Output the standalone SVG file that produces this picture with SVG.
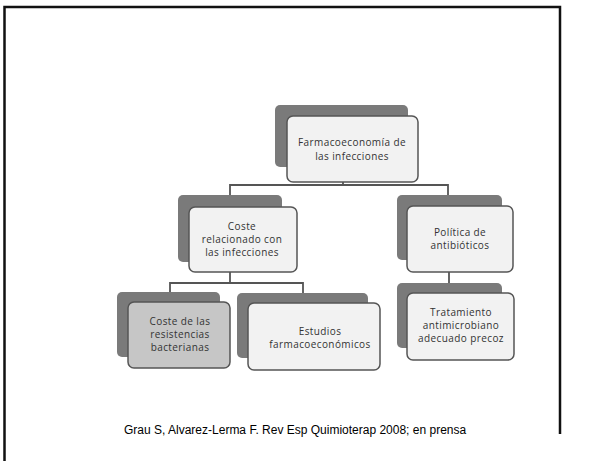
<svg xmlns="http://www.w3.org/2000/svg" width="611" height="461" viewBox="0 0 611 461">
<style>
.back{fill:#7a7a7a}
.front{fill:#f2f2f2;stroke:#555;stroke-width:1.5}
.frontg{fill:#c6c6c6;stroke:#555;stroke-width:1.5}
.t{font-family:"Open Sans","Noto Sans",sans-serif;font-size:10px;letter-spacing:0.4px;fill:#333;text-anchor:middle}
.c{fill:none;stroke:#555;stroke-width:1.8}
</style>
<rect width="611" height="461" fill="#fff"/>
<g id="frame" fill="none" stroke="#111" stroke-width="2.5">
<path d="M4.5 461 V7 H560 V434"/>
</g>
<g id="connectors">
<path class="c" d="M343 170 V185 M230 195 V185 H448 V195"/>
<path class="c" d="M230 262 V283 M170 292 V283 H303 V293"/>
<path class="c" d="M449 272 V283"/>
</g>
<g id="n1">
<rect class="back" x="275" y="105" width="133" height="62" rx="5"/>
<rect class="front" x="287" y="116" width="131" height="66" rx="6"/>
<text class="t" x="352" y="146">Farmacoeconomía de</text>
<text class="t" x="352" y="160">las infecciones</text>
</g>
<g id="n2">
<rect class="back" x="178" y="195" width="104" height="67" rx="5"/>
<rect class="front" x="189" y="207" width="108" height="65" rx="6"/>
<text class="t" x="242" y="230">Coste</text>
<text class="t" x="242" y="243">relacionado con</text>
<text class="t" x="242" y="256">las infecciones</text>
</g>
<g id="n3">
<rect class="back" x="397" y="195" width="105" height="65" rx="5"/>
<rect class="front" x="407" y="206" width="106" height="66" rx="6"/>
<text class="t" x="460" y="236">Política de</text>
<text class="t" x="460" y="249">antibióticos</text>
</g>
<g id="n4">
<rect class="back" x="397" y="283" width="105" height="65" rx="5"/>
<rect class="front" x="407" y="293" width="107" height="67" rx="6"/>
<text class="t" x="461" y="316">Tratamiento</text>
<text class="t" x="461" y="329">antimicrobiano</text>
<text class="t" x="461" y="342">adecuado precoz</text>
</g>
<g id="n5">
<rect class="back" x="117" y="292" width="103" height="65" rx="5"/>
<rect class="frontg" x="128" y="302" width="102" height="66" rx="6"/>
<text class="t" x="180" y="325">Coste de las</text>
<text class="t" x="180" y="338">resistencias</text>
<text class="t" x="180" y="351">bacterianas</text>
</g>
<g id="n6">
<rect class="back" x="237" y="293" width="131" height="65" rx="5"/>
<rect class="front" x="248" y="303" width="132" height="67" rx="6"/>
<text class="t" x="320" y="335">Estudios</text>
<text class="t" x="320" y="348">farmacoeconómicos</text>
</g>
<text x="124" y="434" font-family="Liberation Sans, Arial, sans-serif" font-size="12" fill="#000">Grau S, Alvarez-Lerma F. Rev Esp Quimioterap 2008; en prensa</text>
</svg>
